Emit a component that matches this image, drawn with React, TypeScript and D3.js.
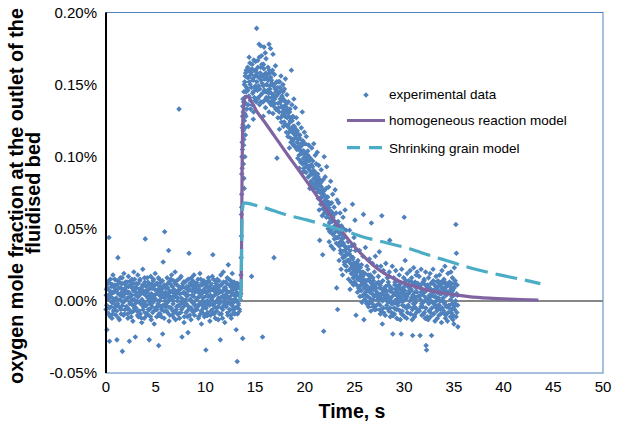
import React from "react";
import * as d3 from "d3";

// Experimental data: flat pairs [time (s), O2 mole fraction in units of 0.001 %]
const expBaseline: number[] = [
  0.00,-6, 0.05,8, 0.10,-20, 0.15,3, 0.20,12, 0.25,-9, 0.30,44, 0.35,-28, 0.40,5, 0.45,15, 0.50,-4, 0.55,10, 0.60,-12, 0.65,2, 0.70,18, 0.75,-7, 0.80,6, 0.85,-2, 0.90,11, 0.95,1,
  1.00,-10, 1.05,7, 1.10,-27, 1.15,14, 1.20,30, 1.25,-3, 1.30,9, 1.35,-13, 1.40,4, 1.45,16, 1.50,-6, 1.55,0, 1.60,12, 1.65,-35, 1.70,8, 1.75,-1, 1.80,19, 1.85,-9, 1.90,5, 1.95,13,
  2.05,-4, 2.10,10, 2.15,2, 2.20,-12, 2.25,17, 2.30,6, 2.35,-28, 2.40,-2, 2.45,11, 2.50,3, 2.55,-8, 2.60,15, 2.65,1, 2.70,-14, 2.75,7, 2.80,20, 2.85,-5, 2.90,9, 2.95,-25, 3.00,4,
  3.05,12, 3.10,-7, 3.15,3, 3.20,18, 3.25,-11, 3.30,6, 3.35,-1, 3.40,14, 3.45,-9, 3.50,8, 3.55,0, 3.60,-15, 3.65,10, 3.70,22, 3.75,-4, 3.80,5, 3.85,-12, 3.90,13, 3.95,43, 4.00,-3,
  4.05,7, 4.10,-10, 4.15,16, 4.20,2, 4.25,-6, 4.30,11, 4.35,-27, 4.40,4, 4.45,-2, 4.50,17, 4.55,-13, 4.60,9, 4.65,1, 4.70,-8, 4.75,14, 4.80,3, 4.85,-16, 4.90,8, 4.95,19, 5.00,-5,
  5.05,5, 5.10,-11, 5.15,12, 5.20,-3, 5.25,8, 5.30,-31, 5.35,15, 5.40,0, 5.45,-9, 5.50,6, 5.55,13, 5.60,-6, 5.65,3, 5.70,-23, 5.75,27, 5.80,10, 5.85,-12, 5.90,48, 5.95,2, 6.00,-4,
  6.05,9, 6.10,-7, 6.15,16, 6.20,-1, 6.25,4, 6.30,35, 6.35,-14, 6.40,7, 6.45,12, 6.50,-5, 6.55,1, 6.60,18, 6.65,-10, 6.70,6, 6.75,-2, 6.80,14, 6.85,-8, 6.90,3, 6.95,20, 7.00,-13,
  7.05,6, 7.10,-4, 7.15,11, 7.20,-9, 7.25,2, 7.30,15, 7.35,133, 7.40,-12, 7.45,8, 7.50,-2, 7.55,17, 7.60,-6, 7.65,-25, 7.70,10, 7.75,0, 7.80,13, 7.85,-15, 7.90,5, 7.95,-3, 8.00,9,
  8.05,-8, 8.10,14, 8.15,3, 8.20,-11, 8.25,-22, 8.30,7, 8.35,33, 8.40,-5, 8.45,12, 8.50,1, 8.55,-13, 8.60,16, 8.65,4, 8.70,-7, 8.75,10, 8.80,-1, 8.85,18, 8.90,-10, 8.95,6, 9.00,-3,
  9.10,11, 9.15,-6, 9.20,2, 9.25,15, 9.30,-12, 9.35,8, 9.40,-2, 9.45,19, 9.50,-9, 9.55,5, 9.60,-16, 9.65,12, 9.70,0, 9.75,7, 9.80,-5, 9.85,14, 9.90,-11, 9.95,3, 10.05,-34, 10.00,9,
  10.10,-3, 10.15,13, 10.20,6, 10.25,-10, 10.30,16, 10.35,-1, 10.40,9, 10.45,-14, 10.50,4, 10.55,11, 10.60,-7, 10.65,2, 10.70,17, 10.75,32, 10.80,-8, 10.85,7, 10.90,-4, 10.95,14, 11.00,-12, 11.05,5,
  11.10,8, 11.15,-5, 11.20,15, 11.25,1, 11.30,-13, 11.35,10, 11.40,-2, 11.45,6, 11.50,-27, 11.55,18, 11.60,-9, 11.65,3, 11.70,12, 11.75,-6, 11.80,20, 11.85,-1, 11.90,9, 11.95,-15, 12.00,4, 12.05,13,
  12.10,-4, 12.15,7, 12.20,16, 12.25,-10, 12.30,25, 12.35,2, 12.40,-7, 12.45,11, 12.50,-2, 12.55,14, 12.60,-12, 12.65,5, 12.70,19, 12.75,-6, 12.80,8, 12.85,-1, 12.90,13, 12.95,-9, 13.00,3, 13.05,10,
  13.10,-20, 13.15,6, 13.20,-42, 13.25,12, 13.30,-3, 13.35,4, 13.40,9, 13.45,-7, 13.50,1,
];

const expBaseline2: number[] = [
  0.025,4, 0.075,-3, 0.125,9, 0.175,-8, 0.225,1, 0.275,14, 0.325,-5, 0.375,7, 0.425,-11, 0.475,3, 0.525,12, 0.575,-1, 0.625,6, 0.675,-9, 0.725,10, 0.775,0, 0.825,-6, 0.875,15, 0.925,-4, 0.975,8,
  1.025,2, 1.075,-7, 1.125,11, 1.175,-2, 1.225,5, 1.275,-12, 1.325,13, 1.375,1, 1.425,-5, 1.475,9, 1.525,-9, 1.575,6, 1.625,16, 1.675,-3, 1.725,3, 1.775,-10, 1.825,8, 1.875,0, 1.925,-6, 1.975,11,
  2.025,7, 2.075,-4, 2.125,13, 2.175,-9, 2.225,2, 2.275,10, 2.325,-6, 2.375,5, 2.425,-1, 2.475,14, 2.525,-11, 2.575,4, 2.625,9, 2.675,-3, 2.725,12, 2.775,-7, 2.825,1, 2.875,15, 2.925,-2, 2.975,6,
  3.025,-5, 3.075,9, 3.125,0, 3.175,-10, 3.225,12, 3.275,3, 3.325,-7, 3.375,8, 3.425,15, 3.475,-2, 3.525,5, 3.575,-12, 3.625,1, 3.675,11, 3.725,-6, 3.775,7, 3.825,-1, 3.875,16, 3.925,-8, 3.975,4,
  4.025,10, 4.075,-3, 4.125,6, 4.175,-9, 4.225,13, 4.275,0, 4.325,8, 4.375,-6, 4.425,3, 4.475,-11, 4.525,12, 4.575,5, 4.625,-4, 4.675,9, 4.725,-1, 4.775,15, 4.825,-7, 4.875,2, 4.925,11, 4.975,-5,
  5.025,1, 5.075,12, 5.125,-6, 5.175,7, 5.225,-2, 5.275,16, 5.325,-9, 5.375,4, 5.425,10, 5.475,-4, 5.525,2, 5.575,-11, 5.625,8, 5.675,14, 5.725,-3, 5.775,5, 5.825,-7, 5.875,11, 5.925,0, 5.975,6,
  6.025,-2, 6.075,11, 6.125,4, 6.175,-8, 6.225,9, 6.275,-4, 6.325,13, 6.375,1, 6.425,-10, 6.475,6, 6.525,15, 6.575,-5, 6.625,3, 6.675,10, 6.725,-7, 6.775,0, 6.825,8, 6.875,-12, 6.925,5, 6.975,12,
  7.025,3, 7.075,-6, 7.125,14, 7.175,0, 7.225,7, 7.275,-9, 7.325,10, 7.375,-3, 7.425,5, 7.475,16, 7.525,-8, 7.575,2, 7.625,9, 7.675,-5, 7.725,12, 7.775,-1, 7.825,6, 7.875,-11, 7.925,13, 7.975,1,
  8.025,5, 8.075,-2, 8.125,10, 8.175,-7, 8.225,4, 8.275,15, 8.325,-4, 8.375,8, 8.425,-10, 8.475,1, 8.525,11, 8.575,-5, 8.625,7, 8.675,-1, 8.725,14, 8.775,-8, 8.825,3, 8.875,9, 8.925,-3, 8.975,12,
  9.025,-6, 9.075,8, 9.125,1, 9.175,13, 9.225,-4, 9.275,6, 9.325,-11, 9.375,10, 9.425,3, 9.475,-2, 9.525,15, 9.575,-7, 9.625,5, 9.675,11, 9.725,-3, 9.775,2, 9.825,-9, 9.875,8, 9.925,13, 9.975,-1,
  10.025,6, 10.075,-5, 10.125,11, 10.175,0, 10.225,-8, 10.275,9, 10.325,3, 10.375,14, 10.425,-3, 10.475,7, 10.525,-10, 10.575,12, 10.625,1, 10.675,-6, 10.725,8, 10.775,-2, 10.825,15, 10.875,-9, 10.925,4, 10.975,10,
  11.025,-1, 11.075,12, 11.125,-7, 11.175,5, 11.225,9, 11.275,-4, 11.325,2, 11.375,14, 11.425,-9, 11.475,7, 11.525,0, 11.575,11, 11.625,-5, 11.675,6, 11.725,-12, 11.775,3, 11.825,13, 11.875,-3, 11.925,8, 11.975,1,
  12.025,9, 12.075,-3, 12.125,4, 12.175,12, 12.225,-8, 12.275,6, 12.325,-1, 12.375,15, 12.425,-6, 12.475,3, 12.525,10, 12.575,-10, 12.625,7, 12.675,1, 12.725,13, 12.775,-4, 12.825,5, 12.875,-8, 12.925,11, 12.975,2,
  13.025,-5, 13.075,8, 13.125,0, 13.175,12, 13.225,-9, 13.275,5, 13.325,-2, 13.375,10, 13.425,-6, 13.475,3,
];

const expRise: number[] = [
  13.55,5, 13.58,18, 13.60,30, 13.62,45, 13.63,60, 13.65,74, 13.66,88, 13.68,100, 13.70,110, 13.72,120, 13.74,128, 13.76,135, 13.78,140, 13.80,118, 13.82,95, 13.75,-26,
  13.84,108, 13.87,85, 13.92,125, 13.97,100, 14.02,115, 13.90,78, 13.95,130,
  13.90,138, 13.95,152, 14.00,129, 14.05,158, 14.10,145, 14.15,133,
  13.65,65, 13.70,92, 13.73,105, 13.77,122, 13.81,131, 13.85,138, 13.88,145, 13.92,150, 13.96,141, 14.00,156, 14.05,137, 14.10,160, 14.15,148, 13.86,112, 13.98,120, 14.08,128,
];

const expPulse: number[] = [
  14.20,147, 14.25,162, 14.30,136, 14.35,155, 14.40,169, 14.45,141, 14.50,150, 14.55,133, 14.60,158, 14.65,17, 14.70,164, 14.75,144, 14.80,153, 14.85,131, 14.90,160, 14.95,148, 15.00,139, 15.05,166, 15.10,156, 15.15,189, 14.32,121, 14.82,126,
  15.20,158, 15.25,140, 15.30,167, 15.35,149, 15.40,178, 15.45,136, 15.50,155, 15.55,162, 15.60,143, 15.65,170, 15.70,151, 15.75,-25, 15.80,138, 15.85,164, 15.90,176, 15.95,146, 16.00,157, 16.05,134, 16.10,168, 16.15,150, 15.55,177, 15.82,128, 16.02,172,
  16.20,155, 16.25,139, 16.30,162, 16.35,144, 16.40,131, 16.45,158, 16.50,147, 16.55,175, 16.60,136, 16.65,153, 16.70,141, 16.75,160, 16.80,130, 16.85,149, 16.90,30, 16.95,157, 17.00,137, 17.05,163, 17.10,145, 17.15,133, 16.40,178, 16.80,171, 17.20,99,
  17.25,145, 17.30,127, 17.35,152, 17.40,134, 17.45,119, 17.50,148, 17.55,138, 17.60,156, 17.65,124, 17.70,142, 17.75,131, 17.80,150, 17.85,121, 17.90,139, 17.95,147, 18.00,128, 18.05,154, 18.10,135, 18.15,117, 18.20,143,
  18.25,131, 18.30,114, 18.35,138, 18.40,120, 18.45,106, 18.50,133, 18.55,125, 18.60,110, 18.65,160, 18.70,136, 18.75,117, 18.80,128, 18.85,108, 18.90,140, 18.95,121, 19.00,113, 19.05,134, 19.10,119, 19.15,127, 19.20,105,
  19.25,118, 19.30,99, 19.35,123, 19.40,105, 19.45,92, 19.50,115, 19.55,108, 19.60,96, 19.65,120, 19.70,102, 19.75,131, 19.80,111, 19.85,90, 19.90,104, 19.95,117, 20.00,97, 20.05,109, 20.10,93, 20.15,114, 20.20,101,
  20.30,104, 20.35,86, 20.40,108, 20.45,91, 20.50,78, 20.55,99, 20.60,94, 20.65,82, 20.70,106, 20.75,88, 20.80,97, 20.85,77, 20.90,109, 20.95,90, 21.00,84, 21.05,101, 21.10,79, 21.15,95, 21.20,87, 21.25,103,
  21.30,88, 21.35,71, 21.40,94, 21.45,63, 21.50,42, 21.55,80, 21.60,67, 21.65,91, 21.70,74, 21.75,59, 21.80,32, 21.85,84, 21.90,-21, 21.95,100, 22.00,69, 22.05,86, 22.10,62, 22.15,78, 22.20,93, 22.25,65, 21.60,82, 22.10,72, 21.90,76,
  22.30,72, 22.35,50, 22.40,79, 22.45,41, 22.50,63, 22.55,55, 22.60,83, 22.65,38, 22.70,68, 22.75,47, 22.80,74, 22.85,58, 22.90,36, 22.95,65, 23.00,52, 23.05,77, 23.10,44, 23.15,61, 23.20,9, 23.25,70, 22.50,48, 22.90,60,
  23.30,-6, 23.35,55, 23.40,68, 23.45,28, 23.50,47, 23.55,61, 23.60,35, 23.65,22, 23.70,52, 23.75,40, 23.80,18, 23.85,58, 23.90,31, 23.95,44, 24.00,25, 24.05,63, 24.10,37, 24.15,49, 24.20,21, 24.25,33, 23.50,39, 23.90,50, 24.10,27,
  24.35,41, 24.40,15, 24.45,33, 24.50,49, 24.55,8, 24.60,26, 24.65,31, 24.70,38, 24.75,19, 24.80,67, 24.85,30, 24.90,11, 24.95,44, 25.00,22, 25.05,56, 25.10,35, 25.15,-10, 25.20,17, 25.25,27, 25.30,6, 24.67,13, 24.97,39,
  25.35,28, 25.40,9, 25.45,21, 25.50,35, 25.55,3, 25.60,16, 25.65,18, 25.70,25, 25.75,-1, 25.80,12, 25.85,31, 25.90,60, 25.95,-13, 26.00,11, 26.05,19, 26.10,37, 26.15,0, 26.20,14, 26.25,24, 26.30,10, 25.55,20, 26.15,4, 25.85,20,
  26.35,22, 26.40,-4, 26.45,15, 26.50,29, 26.55,6, 26.60,18, 26.65,-7, 26.70,54, 26.75,10, 26.80,26, 26.85,1, 26.90,14, 26.95,-3, 27.00,20, 27.05,8, 27.10,31, 27.15,-6, 27.20,12, 27.25,24, 27.30,3, 26.45,9, 26.85,16, 26.55,-1,
  27.40,17, 27.45,-2, 27.50,34, 27.55,11, 27.60,-9, 27.65,24, 27.70,5, 27.75,59, 27.80,-16, 27.85,14, 27.90,-5, 27.95,20, 28.00,2, 28.05,9, 28.10,-10, 28.15,26, 28.20,7, 28.25,-3, 28.30,16, 28.35,0, 27.60,12, 28.00,4, 27.50,-6, 27.90,21,
  28.40,13, 28.45,-7, 28.50,20, 28.55,42, 28.60,-11, 28.65,2, 28.70,9, 28.75,-2, 28.80,24, 28.85,-23, 28.90,4, 28.95,16, 29.00,-9, 29.05,11, 29.10,-1, 29.15,21, 29.20,6, 29.25,-12, 29.30,14, 29.35,1, 28.70,8, 29.00,-5, 28.50,17,
  29.40,10, 29.45,-6, 29.50,18, 29.55,3, 29.60,-13, 29.65,12, 29.70,-23, 29.75,22, 29.80,0, 29.85,7, 29.90,-10, 29.95,16, 30.00,58, 30.05,-4, 30.10,28, 30.15,11, 30.20,2, 30.25,-12, 30.30,19, 30.35,5, 29.60,9, 30.00,13, 29.80,-7,
  30.40,-3, 30.45,14, 30.50,7, 30.55,10, 30.60,21, 30.65,-9, 30.70,1, 30.75,16, 30.80,-13, 30.85,-24, 30.90,-5, 30.95,23, 31.00,4, 31.05,-11, 31.10,13, 31.15,-1, 31.20,18, 31.25,-8, 31.30,6, 31.35,12, 30.70,8, 31.00,-4, 31.30,20,
  31.45,-6, 31.50,17, 31.55,3, 31.60,-24, 31.65,9, 31.70,22, 31.75,-2, 31.80,12, 31.85,-4, 31.90,5, 31.95,-9, 32.00,15, 32.05,0, 32.10,-12, 32.15,20, 32.20,-31, 32.25,-34, 32.30,8, 32.35,11, 32.40,-13, 31.70,6, 32.00,14, 32.20,2,
  32.45,16, 32.50,-7, 32.55,4, 32.60,19, 32.65,-11, 32.70,8, 32.75,-24, 32.80,13, 32.85,-1, 32.90,22, 32.95,-9, 33.00,6, 33.05,11, 33.10,-14, 33.15,3, 33.20,17, 33.25,-5, 33.30,9, 33.35,-12, 33.40,14, 32.70,7, 33.10,-3,
  33.45,2, 33.50,-10, 33.55,18, 33.60,5, 33.65,-6, 33.70,12, 33.75,-15, 33.80,21, 33.85,0, 33.90,9, 33.95,-8, 34.00,15, 34.05,-2, 34.10,24, 34.15,-12, 34.20,7, 34.25,-4, 34.30,11, 34.35,-14, 34.40,19, 33.80,6, 34.10,13,
  34.50,-3, 34.55,13, 34.60,6, 34.65,-11, 34.70,20, 34.75,-6, 34.80,3, 34.85,16, 34.90,-13, 34.95,9, 35.00,-16, 35.05,23, 35.10,-2, 35.15,12, 35.20,53, 35.25,33, 35.30,-8, 35.35,4, 35.40,-18, 34.70,8, 35.00,-4,
];

const expPulse2: number[] = [
  14.225,155, 14.275,146, 14.325,160, 14.375,142, 14.425,152, 14.475,165, 14.525,139, 14.575,157, 14.625,148, 14.675,161, 14.725,136, 14.775,154, 14.825,145, 14.875,167, 14.925,141, 14.975,156, 15.025,149, 15.075,160, 15.125,138, 15.175,152,
  15.225,146, 15.275,162, 15.325,141, 15.375,155, 15.425,169, 15.475,147, 15.525,158, 15.575,138, 15.625,153, 15.675,164, 15.725,144, 15.775,156, 15.825,149, 15.875,161, 15.925,139, 15.975,154, 16.025,145, 16.075,158, 16.125,141, 16.175,150,
  16.225,157, 16.275,146, 16.325,153, 16.375,141, 16.425,160, 16.475,149, 16.525,137, 16.575,155, 16.625,144, 16.675,151, 16.725,139, 16.775,158, 16.825,143, 16.875,135, 16.925,150, 16.975,140, 17.025,147, 17.075,133, 17.125,142, 17.175,152,
  17.275,148, 17.325,137, 17.375,144, 17.425,131, 17.475,152, 17.525,140, 17.575,127, 17.625,146, 17.675,135, 17.725,141, 17.775,129, 17.825,145, 17.875,133, 17.925,124, 17.975,139, 18.025,130, 18.075,136, 18.125,122, 18.175,132, 18.225,127,
  18.275,133, 18.325,122, 18.375,128, 18.425,117, 18.475,131, 18.525,124, 18.575,113, 18.625,127, 18.675,119, 18.725,125, 18.775,111, 18.825,121, 18.875,116, 18.925,108, 18.975,120, 19.025,113, 19.075,118, 19.125,106, 19.175,115, 19.225,110,
  19.275,116, 19.325,107, 19.375,112, 19.425,101, 19.475,113, 19.525,105, 19.575,97, 19.625,109, 19.675,103, 19.725,108, 19.775,95, 19.825,104, 19.875,99, 19.925,92, 19.975,103, 20.025,96, 20.075,101, 20.125,89, 20.175,98, 20.225,94,
  20.325,101, 20.375,92, 20.425,97, 20.475,87, 20.525,99, 20.575,90, 20.625,83, 20.675,94, 20.725,88, 20.775,93, 20.825,80, 20.875,90, 20.925,85, 20.975,78, 21.025,89, 21.075,82, 21.125,87, 21.175,75, 21.225,84, 21.275,80,
  21.325,86, 21.375,77, 21.425,82, 21.475,71, 21.525,84, 21.575,75, 21.625,67, 21.675,79, 21.725,72, 21.775,77, 21.825,64, 21.875,74, 21.925,69, 21.975,61, 22.025,73, 22.075,66, 22.125,70, 22.175,58, 22.225,67, 22.275,62,
  22.325,69, 22.375,60, 22.425,65, 22.475,54, 22.525,67, 22.575,57, 22.625,49, 22.675,62, 22.725,55, 22.775,59, 22.825,46, 22.875,56, 22.925,51, 22.975,43, 23.025,55, 23.075,48, 23.125,52, 23.175,40, 23.225,49, 23.275,44,
  23.325,53, 23.375,44, 23.425,49, 23.475,38, 23.525,51, 23.575,41, 23.625,33, 23.675,46, 23.725,39, 23.775,43, 23.825,30, 23.875,40, 23.925,35, 23.975,27, 24.025,38, 24.075,31, 24.125,36, 24.175,24, 24.225,33, 24.275,28,
  24.375,37, 24.425,28, 24.475,33, 24.525,22, 24.575,35, 24.625,26, 24.675,19, 24.725,30, 24.775,24, 24.825,29, 24.875,16, 24.925,26, 24.975,21, 25.025,13, 25.075,25, 25.125,18, 25.175,23, 25.225,11, 25.275,20, 25.325,15,
  25.375,25, 25.425,16, 25.475,21, 25.525,10, 25.575,23, 25.625,14, 25.675,7, 25.725,19, 25.775,12, 25.825,17, 25.875,4, 25.925,15, 25.975,9, 26.025,1, 26.075,13, 26.125,6, 26.175,11, 26.225,-2, 26.275,8, 26.325,3,
  26.375,18, 26.425,9, 26.475,14, 26.525,2, 26.575,16, 26.625,7, 26.675,-1, 26.725,12, 26.775,5, 26.825,10, 26.875,-4, 26.925,8, 26.975,3, 27.025,-6, 27.075,11, 27.125,4, 27.175,9, 27.225,-3, 27.275,6, 27.325,1,
  27.425,13, 27.475,4, 27.525,9, 27.575,-3, 27.625,11, 27.675,2, 27.725,-6, 27.775,8, 27.825,0, 27.875,5, 27.925,-8, 27.975,6, 28.025,1, 28.075,-10, 28.125,10, 28.175,3, 28.225,7, 28.275,-5, 28.325,4, 28.375,-1,
  28.425,11, 28.475,2, 28.525,7, 28.575,-5, 28.625,9, 28.675,0, 28.725,-8, 28.775,6, 28.825,-2, 28.875,4, 28.925,-10, 28.975,5, 29.025,-1, 29.075,13, 29.125,8, 29.175,1, 29.225,-6, 29.275,10, 29.325,3, 29.375,-3,
  29.425,8, 29.475,-1, 29.525,5, 29.575,-7, 29.625,12, 29.675,2, 29.725,-9, 29.775,6, 29.825,-3, 29.875,9, 29.925,0, 29.975,4, 30.025,-11, 30.075,7, 30.125,1, 30.175,14, 30.225,-5, 30.275,3, 30.325,-8, 30.375,10,
  30.425,5, 30.475,-4, 30.525,9, 30.575,0, 30.625,-9, 30.675,7, 30.725,2, 30.775,13, 30.825,-6, 30.875,4, 30.925,-2, 30.975,11, 31.025,-10, 31.075,6, 31.125,1, 31.175,-5, 31.225,9, 31.275,3, 31.325,-7, 31.375,12,
  31.475,3, 31.525,-7, 31.575,10, 31.625,1, 31.675,-4, 31.725,8, 31.775,-10, 31.825,5, 31.875,13, 31.925,-1, 31.975,6, 32.025,-8, 32.075,3, 32.125,11, 32.175,-5, 32.225,7, 32.275,0, 32.325,-11, 32.375,9, 32.425,2,
  32.475,-2, 32.525,9, 32.575,1, 32.625,-8, 32.675,12, 32.725,4, 32.775,-5, 32.825,7, 32.875,-1, 32.925,14, 32.975,-9, 33.025,3, 33.075,8, 33.125,-4, 33.175,10, 33.225,0, 33.275,-7, 33.325,6, 33.375,13, 33.425,-3,
  33.475,7, 33.525,-3, 33.575,11, 33.625,0, 33.675,-9, 33.725,5, 33.775,9, 33.825,-5, 33.875,14, 33.925,2, 33.975,-7, 34.025,8, 34.075,-1, 34.125,12, 34.175,-10, 34.225,4, 34.275,10, 34.325,-4, 34.375,6, 34.425,-8,
  34.525,6, 34.575,-5, 34.625,10, 34.675,1, 34.725,-8, 34.775,12, 34.825,-2, 34.875,7, 34.925,-10, 34.975,4, 35.025,9, 35.075,-6, 35.125,14, 35.175,0, 35.225,-11, 35.275,5, 35.325,11, 35.375,-3,
];

// Homogeneous reaction model: time (s), O2 (%)
const homoTime = [13.44, 13.59, 13.64, 13.69, 13.74, 13.81, 13.91, 14.04, 14.15, 15.21, 16.22, 17.24, 18.25, 19.27, 20.28, 21.29, 22.31, 23.32, 24.34, 25.35, 26.36, 27.38, 28.39, 29.41, 30.42, 31.43, 32.45, 33.46, 34.48, 35.49, 36.5, 38.5, 40.6, 42.6, 43.5];
const homoValue = [0, 0.005, 0.04, 0.09, 0.118, 0.132, 0.139, 0.1415, 0.142, 0.131, 0.1215, 0.1115, 0.1015, 0.0918, 0.082, 0.072, 0.062, 0.052, 0.043, 0.035, 0.028, 0.022, 0.0175, 0.014, 0.0113, 0.0092, 0.0074, 0.006, 0.0048, 0.0038, 0.003, 0.0019, 0.0012, 0.0008, 0.0006];

// Shrinking grain model: time (s), O2 (%)
const grainTime = [13.44, 13.59, 13.64, 13.69, 13.77, 13.89, 15.21, 18.5, 20.28, 22.31, 24.34, 25.55, 28.39, 30.62, 32.45, 34.48, 36.6, 38.5, 40.6, 42.6, 43.7];
const grainValue = [0, 0.01, 0.035, 0.058, 0.066, 0.068, 0.066, 0.059, 0.056, 0.052, 0.0478, 0.045, 0.04, 0.036, 0.0318, 0.0275, 0.023, 0.0197, 0.0166, 0.0137, 0.012];

const xTicks = [0, 5, 10, 15, 20, 25, 30, 35, 40, 45, 50];
const yTicks = [-0.05, 0, 0.05, 0.1, 0.15, 0.2];
const yTickLabels = ["-0.05%", "0.00%", "0.05%", "0.10%", "0.15%", "0.20%"];
const legendLabels = ["experimental data", "homogeneous reaction model", "Shrinking grain model"];
const xTitle = "Time, s";
const yTitleLines = ["oxygen mole fraction at the outlet of the", "fluidised bed"];

const W = 619;
const H = 425;
const FONT = "'Liberation Sans', Arial, sans-serif";
const BLUE = "#4F81BD";
const PURPLE = "#8064A2";
const CYAN = "#4BACC6";

function pairs(arr: number[]): [number, number][] {
  const out: [number, number][] = [];
  for (let i = 0; i + 1 < arr.length; i += 2) out.push([arr[i], arr[i + 1] / 1000]);
  return out;
}

export default function App() {
  const x = d3.scaleLinear().domain([0, 50]).range([106, 603]);
  const y = d3.scaleLinear().domain([-0.05, 0.2]).range([373, 12.5]);

  const exp = [
    ...pairs(expBaseline),
    ...pairs(expBaseline2),
    ...pairs(expRise),
    ...pairs(expPulse),
    ...pairs(expPulse2),
  ];
  const homo = homoTime.map((t, i) => [t, homoValue[i]] as [number, number]);
  const grain = grainTime.map((t, i) => [t, grainValue[i]] as [number, number]);

  const line = d3
    .line<[number, number]>()
    .x((d) => x(d[0]))
    .y((d) => y(d[1]))
    .curve(d3.curveMonotoneX);

  const r = 2.8;
  const diamond = (cx: number, cy: number) =>
    `M${cx},${cy - r}L${cx + r},${cy}L${cx},${cy + r}L${cx - r},${cy}Z`;

  const expPath = exp.map((d) => diamond(x(d[0]), y(d[1]))).join("");

  return (
    <svg
      width={W}
      height={H}
      style={{ position: "absolute", left: 0, top: 0, background: "#fff" }}
      fontFamily={FONT}
    >
      <rect x={0} y={0} width={W} height={H} fill="#fff" />
      <rect x={106} y={12.5} width={603 - 106} height={373 - 12.5} fill="none" stroke={BLUE} strokeWidth={1} />
      <line x1={106} x2={603} y1={y(0)} y2={y(0)} stroke="#878787" strokeWidth={2} />
      <path d={expPath} fill={BLUE} />
      <path d={line(homo) || ""} fill="none" stroke={PURPLE} strokeWidth={3.2} strokeLinejoin="round" />
      <path d={line(grain) || ""} fill="none" stroke={CYAN} strokeWidth={3.2} strokeDasharray="22,8" />
      <line x1={106} x2={106} y1={12.5} y2={373} stroke="#000" strokeWidth={2} />
      {yTicks.map((t, i) => (
        <text key={"y" + i} x={97} y={y(t) + 5.3} textAnchor="end" fontSize={15} fill="#000">
          {yTickLabels[i]}
        </text>
      ))}
      {xTicks.map((t) => (
        <text key={"x" + t} x={x(t)} y={392} textAnchor="middle" fontSize={15} fill="#000">
          {t}
        </text>
      ))}
      <text x={352} y={418} textAnchor="middle" fontSize={19.5} fontWeight="bold" fill="#000">
        {xTitle}
      </text>
      <text transform="translate(22.7,196) rotate(-90)" textAnchor="middle" fontSize={19.8} fontWeight="bold" fill="#000">
        {yTitleLines[0]}
      </text>
      <text transform="translate(40,193) rotate(-90)" textAnchor="middle" fontSize={19.8} fontWeight="bold" fill="#000">
        {yTitleLines[1]}
      </text>
      <path d={diamond(366, 95)} fill={BLUE} />
      <line x1={347} x2={385} y1={120.5} y2={120.5} stroke={PURPLE} strokeWidth={3.2} />
      <line x1={347} x2={382} y1={147.7} y2={147.7} stroke={CYAN} strokeWidth={3.2} strokeDasharray="13,9" />
      {legendLabels.map((s, i) => (
        <text key={s} x={389} y={[98.5, 124.5, 152.5][i]} fontSize={13.5} fill="#000">
          {s}
        </text>
      ))}
    </svg>
  );
}
